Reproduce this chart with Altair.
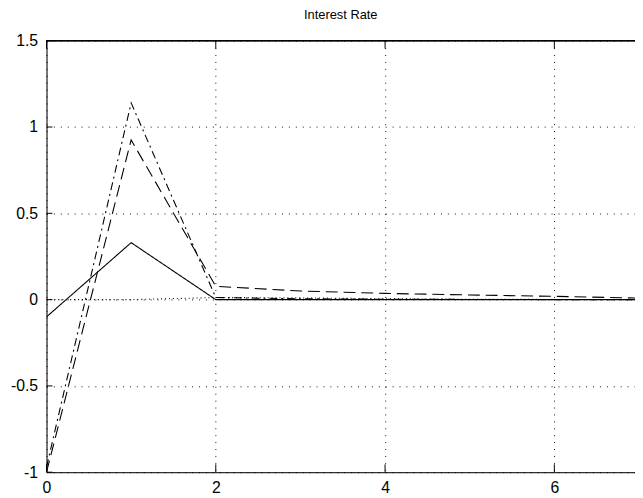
import altair as alt
import pandas as pd

# data
steps = [0, 1, 2, 3, 4, 5, 6, 7]
solid_vals = [-0.10, 0.33, 0.0, 0.0, 0.0, 0.0, 0.0, 0.0]
dashed_vals = [-1.0, 0.925, 0.077, 0.05, 0.036, 0.027, 0.019, 0.009]
dashdot_vals = [-0.97, 1.14, 0.012, 0.005, 0.002, 0.001, 0.0, 0.0]
dotted_vals = [0.0, 0.0, 0.012, 0.01, 0.005, 0.002, 0.001, 0.0]
series_names = ["solid", "dashed", "dashdot", "dotted"]
x_ticks = [0, 2, 4, 6]
y_ticks = [-1, -0.5, 0, 0.5, 1, 1.5]

rows = []
for name, vals in zip(series_names, [solid_vals, dashed_vals, dashdot_vals, dotted_vals]):
    for s, v in zip(steps, vals):
        rows.append({"series": name, "step": s, "value": v})
df = pd.DataFrame(rows)

W, H = 596, 437
FONT = "Liberation Sans"

xs = alt.Scale(domain=[0, 6.953], nice=False, zero=False)
ys = alt.Scale(domain=[-1, 1.5], nice=False, zero=False)
xaxis = alt.Axis(values=x_ticks, title=None, grid=True, gridDash=[1, 6], gridColor="#111",
                 gridOpacity=1, tickSize=0, labelPadding=8, labelFontSize=16, labelFont=FONT,
                 labelColor="black", domainColor="black", labelExpr="'' + datum.value",
                 labelFlush=False, labelOverlap=False)
yaxis = alt.Axis(values=y_ticks, title=None, grid=True, gridDash=[1, 6], gridColor="#111",
                 gridOpacity=1, tickSize=0, labelPadding=9, labelFontSize=16, labelFont=FONT,
                 labelColor="black", domainColor="black", labelExpr="'' + datum.value",
                 labelFlush=False, labelOverlap=False)

lines = alt.Chart(df).mark_line(color="black", strokeWidth=1.1, clip=True).encode(
    x=alt.X("step:Q", scale=xs, axis=xaxis),
    y=alt.Y("value:Q", scale=ys, axis=yaxis),
    strokeDash=alt.StrokeDash("series:N",
                              scale=alt.Scale(domain=series_names,
                                              range=[[1, 0], [12, 6], [8, 4, 2, 4], [1, 3]]),
                              legend=None),
    detail="series:N",
)

xt = pd.DataFrame({"step": x_ticks})
yt = pd.DataFrame({"value": y_ticks})

bottom_ticks = alt.Chart(xt).mark_rule(color="black", strokeWidth=1).encode(
    x=alt.X("step:Q", scale=xs, axis=xaxis), y=alt.value(H), y2=alt.value(H - 8))
top_ticks = alt.Chart(xt).mark_rule(color="black", strokeWidth=1).encode(
    x=alt.X("step:Q", scale=xs, axis=xaxis), y=alt.value(0), y2=alt.value(8))
left_ticks = alt.Chart(yt).mark_rule(color="black", strokeWidth=1).encode(
    y=alt.Y("value:Q", scale=ys, axis=yaxis), x=alt.value(0), x2=alt.value(6))
top_border = alt.Chart(xt).mark_rule(color="black", strokeWidth=1).encode(
    x=alt.value(0), x2=alt.value(W), y=alt.value(0))

chart = alt.layer(lines, bottom_ticks, top_ticks, left_ticks, top_border).properties(
    width=W, height=H,
    title=alt.TitleParams("Interest Rate", fontSize=13, fontWeight="normal", font=FONT,
                          color="black", offset=11, anchor="middle"),
    autosize=alt.AutoSizeParams(type="none"),
    padding={"left": 39, "top": 30, "right": 0, "bottom": 25},
).configure_view(stroke=None).configure(background="white")

chart.save("out.html", embed_options={"renderer": "svg", "actions": False})
